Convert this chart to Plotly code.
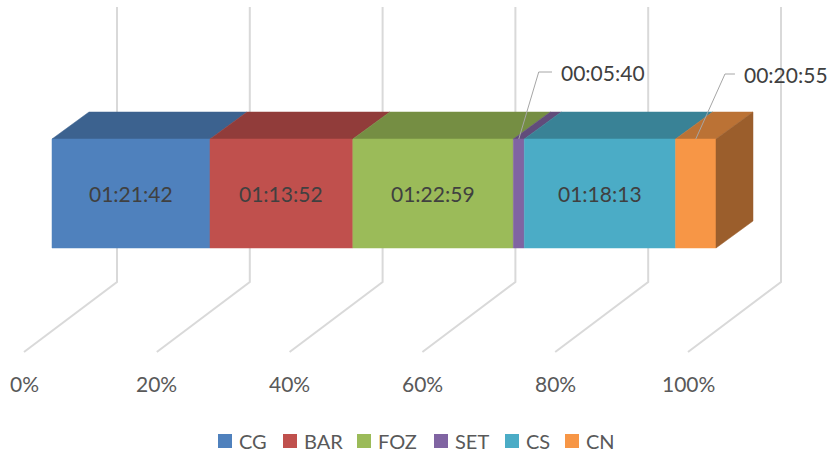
import plotly.graph_objects as go

# Time spent per location (hh:mm:ss)
categories = ["CG", "BAR", "FOZ", "SET", "CS", "CN"]
durations = ["01:21:42", "01:13:52", "01:22:59", "00:05:40", "01:18:13", "00:20:55"]
tick_values = [0, 20, 40, 60, 80, 100]
tick_labels = ["0%", "20%", "40%", "60%", "80%", "100%"]

front_colors = ["#4F81BD", "#C0504D", "#9BBB59", "#8064A2", "#4BACC6", "#F79646"]


def to_seconds(s):
    h, m, sec = (int(v) for v in s.split(":"))
    return h * 3600 + m * 60 + sec


def shade(hex_color, f):
    r, g, b = (int(hex_color[i:i + 2], 16) for i in (1, 3, 5))
    return "rgb({},{},{})".format(int(r * f), int(g * f), int(b * f))


secs = [to_seconds(d) for d in durations]
total = sum(secs)
pct = [100.0 * s / total for s in secs]
starts, ends = [], []
acc = 0.0
for p in pct:
    starts.append(acc)
    acc += p
    ends.append(acc)

W, H = 830, 455

# --- 3D projection settings (x in percent units, y in screen units) ---
PX_PER_PCT = 6.64
X_LEFT = 52                      # screen x of the 0% front edge
BAR_TOP, BAR_BOT = 139, 248      # front face vertical extent
BAR_DEPTH_X = 37 / PX_PER_PCT    # depth offset of bar top face
BAR_DEPTH_Y = 27
FLOOR_FRONT_X = (24 - X_LEFT) / PX_PER_PCT
FLOOR_BACK_X = (117 - X_LEFT) / PX_PER_PCT
FLOOR_FRONT_Y, FLOOR_BACK_Y, WALL_TOP_Y = 352, 282, 7
GRID = "#D9D9D9"
TEXT = "#404040"
AXIS_TEXT = "#595959"
FONT = "Lato, 'Liberation Sans', sans-serif"

fig = go.Figure()

# Gridlines: floor diagonals + back-wall verticals
for t in tick_values:
    fig.add_trace(go.Scatter(
        x=[t + FLOOR_FRONT_X, t + FLOOR_BACK_X, t + FLOOR_BACK_X],
        y=[FLOOR_FRONT_Y, FLOOR_BACK_Y, WALL_TOP_Y],
        mode="lines", line=dict(color=GRID, width=2),
        hoverinfo="skip", showlegend=False))


def poly(xs, ys, color):
    fig.add_trace(go.Scatter(
        x=xs + [xs[0]], y=ys + [ys[0]], mode="lines", fill="toself",
        fillcolor=color, line=dict(color=color, width=0.5),
        hoverinfo="skip", showlegend=False))


# Stacked 3D bar segments
for i, (s, e) in enumerate(zip(starts, ends)):
    c = front_colors[i]
    # top face
    poly([s, e, e + BAR_DEPTH_X, s + BAR_DEPTH_X],
         [BAR_TOP, BAR_TOP, BAR_TOP - BAR_DEPTH_Y, BAR_TOP - BAR_DEPTH_Y],
         shade(c, 0.76))
    # front face
    poly([s, e, e, s], [BAR_BOT, BAR_BOT, BAR_TOP, BAR_TOP], c)

# right end face of the last segment
e = ends[-1]
poly([e, e + BAR_DEPTH_X, e + BAR_DEPTH_X, e],
     [BAR_BOT, BAR_BOT - BAR_DEPTH_Y, BAR_TOP - BAR_DEPTH_Y, BAR_TOP],
     shade(front_colors[-1], 0.63))

annotations = []
shapes = []

# Value labels: inside for wide segments, with leader lines for narrow ones
callouts = {"SET": (3.0, 5.0, 72), "CN": (4.4, 5.9, 74)}
for i, cat in enumerate(categories):
    mid = (starts[i] + ends[i]) / 2
    if cat in callouts:
        elbow, end, ly = callouts[cat]
        fig.add_trace(go.Scatter(
            x=[mid, mid + elbow, mid + end], y=[BAR_TOP, ly, ly],
            mode="lines", line=dict(color="#A6A6A6", width=1),
            hoverinfo="skip", showlegend=False))
        annotations.append(dict(
            x=mid + end + 1.0, y=ly, xref="x", yref="y", text=durations[i],
            showarrow=False, xanchor="left", yanchor="middle",
            font=dict(family=FONT, size=21, color=TEXT)))
    else:
        annotations.append(dict(
            x=mid, y=(BAR_TOP + BAR_BOT) / 2, xref="x", yref="y",
            text=durations[i], showarrow=False,
            font=dict(family=FONT, size=21, color=TEXT)))

# Axis tick labels along the front floor edge
for t, lab in zip(tick_values, tick_labels):
    annotations.append(dict(
        x=t + FLOOR_FRONT_X, y=383, xref="x", yref="y", text=lab,
        showarrow=False, font=dict(family=FONT, size=21, color=AXIS_TEXT)))

# Legend: colour swatch followed by the series name
legend_x = [218, 283, 357, 434, 505, 565]
LEG_Y, SW = 441, 14
for cat, c, lx in zip(categories, front_colors, legend_x):
    shapes.append(dict(
        type="rect", xref="paper", yref="paper",
        x0=lx / W, x1=(lx + SW) / W,
        y0=1 - (LEG_Y + SW / 2) / H, y1=1 - (LEG_Y - SW / 2) / H,
        fillcolor=c, line=dict(width=0)))
    annotations.append(dict(
        x=(lx + SW + 5) / W, y=1 - LEG_Y / H, xref="paper", yref="paper",
        text=cat, showarrow=False, xanchor="left", yanchor="middle",
        font=dict(family=FONT, size=20, color=AXIS_TEXT)))

fig.update_layout(
    width=W, height=H,
    margin=dict(l=0, r=0, t=0, b=0),
    paper_bgcolor="white", plot_bgcolor="white",
    xaxis=dict(range=[-X_LEFT / PX_PER_PCT, (W - X_LEFT) / PX_PER_PCT],
               visible=False, fixedrange=True),
    yaxis=dict(range=[H, 0], visible=False, fixedrange=True),
    annotations=annotations,
    shapes=shapes,
    showlegend=False,
)

fig.write_html("out.html")
